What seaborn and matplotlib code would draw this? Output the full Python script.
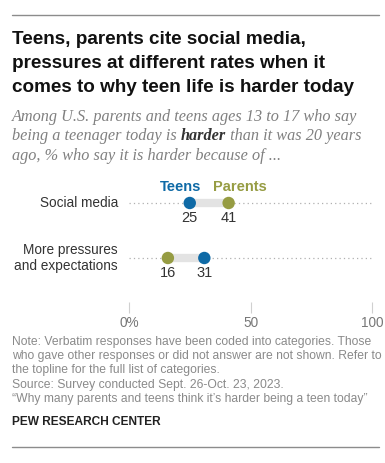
import pandas as pd
import seaborn as sns
import matplotlib.pyplot as plt

# Data
categories = ['Social media', 'More pressures\nand expectations']
teens = [25, 31]
parents = [41, 16]
ticks = [0, 50, 100]
tick_labels = ['0%', '50', '100']

TEEN_COLOR = '#0f6aa6'
PARENT_COLOR = '#969c43'
W, H = 385, 463

def fx(px):
    return px / W

def fy(px):
    return 1 - px / H

sns.set_theme(style='white')
plt.rcParams['font.family'] = ['Liberation Sans', 'DejaVu Sans']

df = pd.DataFrame({
    'row': list(range(len(categories))) * 2,
    'value': teens + parents,
    'group': ['Teens'] * len(teens) + ['Parents'] * len(parents),
})

fig = plt.figure(figsize=(W / 100, H / 100), dpi=100)

# plot area: x 0..100 spans px 129..372, axis line at px 302
ax = fig.add_axes([fx(129), fy(302), fx(372 - 129), (302 - 180) / H])

# dotted guide lines and gray connectors
ax.hlines(range(len(categories)), 0, 100, colors='#b0b0b0', linestyles=(0, (1, 2.5)), linewidth=0.9, zorder=1)
ax.hlines(range(len(categories)), [min(t, p) for t, p in zip(teens, parents)],
          [max(t, p) for t, p in zip(teens, parents)], colors='#e3e3e3', linewidth=6, zorder=2)

sns.scatterplot(data=df, x='value', y='row', hue='group',
                palette={'Teens': TEEN_COLOR, 'Parents': PARENT_COLOR},
                s=80, linewidth=0, legend=False, zorder=3, ax=ax)

for i in range(len(categories)):
    for v in (teens[i], parents[i]):
        ax.text(v, i + 0.27, str(v), ha='center', va='center', fontsize=10.5, color='#333333')

# series labels above first row, split around the midpoint
mid = (teens[0] + parents[0]) / 2
ax.text(mid - 3.3, -0.29, 'Teens', ha='right', va='center', fontsize=10.5, fontweight='bold', color=TEEN_COLOR)
ax.text(mid + 1.6, -0.29, 'Parents', ha='left', va='center', fontsize=10.5, fontweight='bold', color=PARENT_COLOR)

for i, c in enumerate(categories):
    ax.text(-4.5, i, c, ha='right', va='center', fontsize=9.8, color='#333333', linespacing=1.25)

ax.set_xlim(0, 100)
ax.set_ylim(1.8, -0.418)
ax.set_xticks(ticks)
ax.set_xticklabels(tick_labels, fontsize=9.8, color='#777777')
ax.set_yticks([])
ax.set_xlabel('')
ax.set_ylabel('')
ax.tick_params(axis='x', direction='out', length=8, width=0.8, color='#d0d0d0', pad=2, bottom=True)
for s in ['top', 'right', 'left', 'bottom']:
    ax.spines[s].set_visible(False)
ax.patch.set_alpha(0)

# rules
fig.add_artist(plt.Line2D([fx(12), fx(379)], [fy(15), fy(15)], color='#8c8c8c', linewidth=1))
fig.add_artist(plt.Line2D([fx(12), fx(379)], [fy(447), fy(447)], color='#8c8c8c', linewidth=1))

# title
for k, line in enumerate(['Teens, parents cite social media,',
                          'pressures at different rates when it',
                          'comes to why teen life is harder today']):
    fig.text(fx(12), fy(40 + 23.5 * k), line, fontsize=13.6, fontweight='bold', color='#111111', va='center')

# subtitle (bold "harder" placed inline)
sub_font = dict(family='Liberation Serif', style='italic', fontsize=11.7, va='center')
fig.text(fx(12), fy(117), 'Among U.S. parents and teens ages 13 to 17 who say', color='#808080', **sub_font)
fig.text(fx(12), fy(156), 'ago, % who say it is harder because of ...', color='#808080', **sub_font)
renderer = fig.canvas.get_renderer()
x0 = fx(12)
for part, weight, col in [('being a teenager today is ', 'normal', '#808080'),
                          ('harder', 'bold', '#333333'),
                          (' than it was 20 years', 'normal', '#808080')]:
    t = fig.text(x0, fy(136.5), part, fontweight=weight, color=col, **sub_font)
    bb = t.get_window_extent(renderer=renderer)
    x0 += bb.width / fig.bbox.width

# notes
notes = ['Note: Verbatim responses have been coded into categories. Those',
         'who gave other responses or did not answer are not shown. Refer to',
         'the topline for the full list of categories.',
         'Source: Survey conducted Sept. 26-Oct. 23, 2023.',
         '\u201cWhy many parents and teens think it\u2019s harder being a teen today\u201d']
for k, line in enumerate(notes):
    fig.text(fx(12), fy(342 + 14.2 * k), line, fontsize=8.7, color='#8a8a8a', va='center')

fig.text(fx(12), fy(422), 'PEW RESEARCH CENTER', fontsize=8.6, fontweight='bold', color='#222222', va='center')

fig.savefig('out.png', dpi=100)
